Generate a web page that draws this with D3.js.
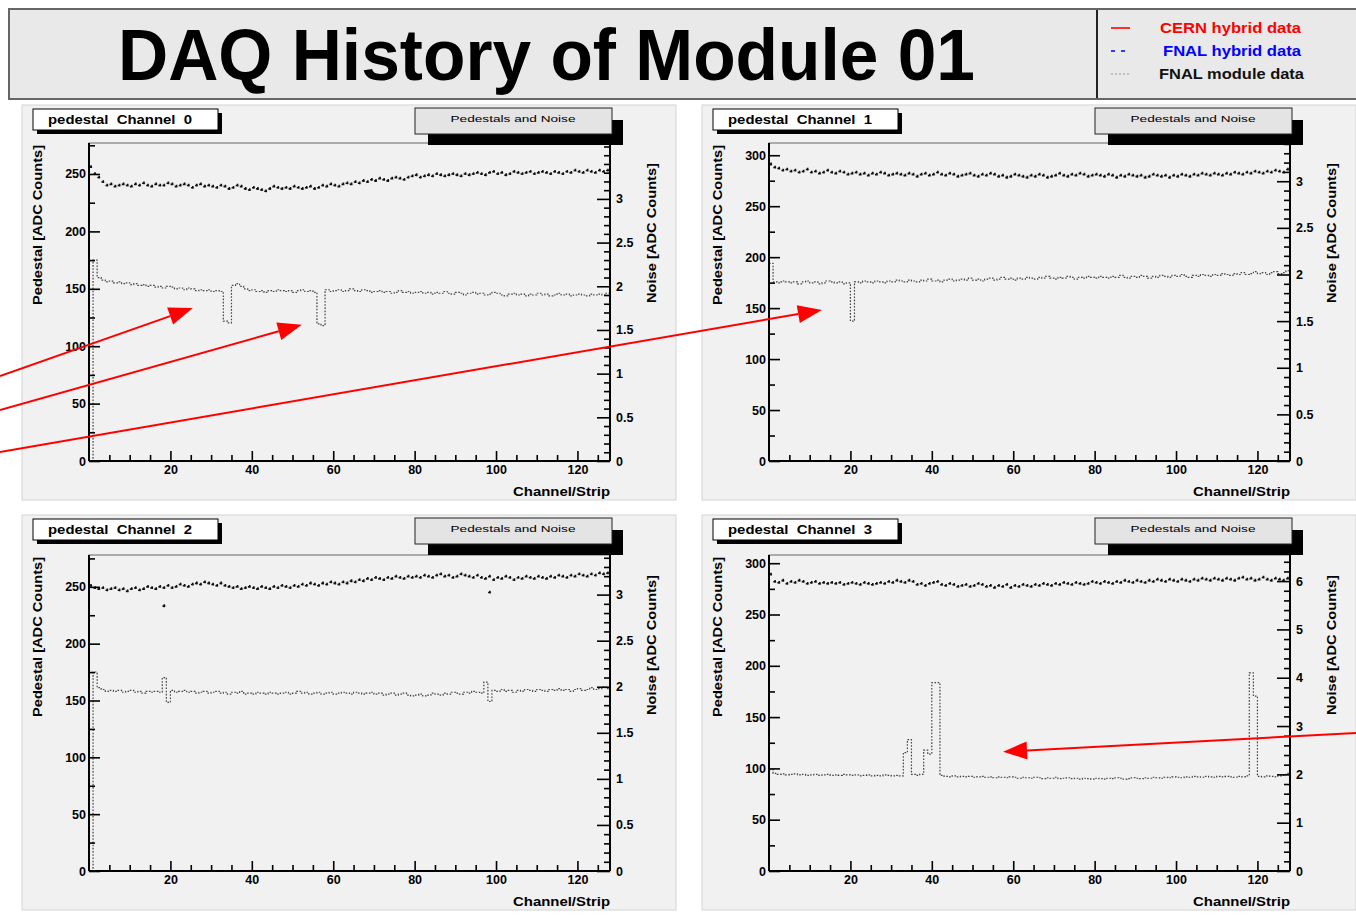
<!DOCTYPE html>
<html>
<head>
<meta charset="utf-8">
<script src="https://cdn.jsdelivr.net/npm/d3@7"></script>
<style>
  body { margin: 0; background: #fff; }
  svg { display: block; font-family: "Liberation Sans", Arial, sans-serif; font-weight: bold; }
</style>
</head>
<body>
<script>
/*** data: 128 strips per chip, pedestal in ADC counts, noise in ADC counts ***/
const nStrips = 128;

const pedestal0 = [
  256, 250, 247, 243, 240, 241, 239, 240, 241, 240, 239, 241, 240, 242, 240, 239,
  241, 240, 240, 242, 241, 239, 240, 241, 240, 238, 240, 241, 239, 240, 239, 238,
  240, 239, 237, 238, 240, 239, 237, 236, 238, 237, 236, 235, 237, 239, 238, 237,
  238, 237, 239, 238, 237, 238, 239, 237, 238, 240, 239, 241, 240, 239, 241, 242,
  241, 243, 242, 244, 243, 245, 244, 246, 245, 244, 246, 247, 246, 245, 247, 248,
  249, 247, 248, 249, 248, 250, 249, 248, 249, 250, 249, 248, 250, 249, 250, 251,
  250, 249, 251, 252, 250, 251, 249, 250, 252, 251, 250, 251, 252, 250, 251, 252,
  251, 250, 252, 251, 250, 252, 251, 253, 252, 251, 253, 252, 251, 253, 252, 253
];
const noise0 = [
  0, 2.30, 2.10, 2.07, 2.05, 2.06, 2.04, 2.05, 2.03, 2.04, 2.02, 2.03, 2.01, 2.02, 2.00, 2.01,
  1.99, 2.00, 1.98, 2.00, 1.99, 1.97, 1.98, 1.96, 1.98, 1.97, 1.95, 1.96, 1.95, 1.96, 1.94, 1.95,
  1.94, 1.60, 1.58, 2.01, 2.03, 2.00, 1.97, 1.95, 1.96, 1.94, 1.95, 1.93, 1.95, 1.94, 1.96, 1.95,
  1.94, 1.95, 1.93, 1.95, 1.96, 1.94, 1.95, 1.93, 1.57, 1.55, 1.96, 1.94, 1.95, 1.96, 1.94, 1.95,
  1.97, 1.95, 1.94, 1.96, 1.95, 1.93, 1.94, 1.95, 1.93, 1.94, 1.92, 1.93, 1.95, 1.93, 1.94, 1.92,
  1.93, 1.94, 1.92, 1.93, 1.91, 1.93, 1.92, 1.94, 1.92, 1.91, 1.93, 1.92, 1.90, 1.92, 1.93, 1.91,
  1.92, 1.90, 1.91, 1.93, 1.92, 1.90, 1.89, 1.91, 1.92, 1.90, 1.91, 1.89, 1.91, 1.90, 1.92, 1.90,
  1.91, 1.89, 1.90, 1.92, 1.90, 1.91, 1.89, 1.90, 1.91, 1.90, 1.89, 1.91, 1.90, 1.91, 1.90, 1.92
];

const pedestal1 = [
  291, 288, 287, 285, 286, 284, 285, 283, 284, 286, 283, 284, 282, 283, 285, 283,
  282, 284, 283, 281, 282, 283, 281, 282, 280, 282, 281, 283, 282, 280, 281, 282,
  281, 280, 282, 281, 279, 281, 282, 280, 281, 283, 281, 280, 282, 281, 279, 280,
  281, 282, 280, 279, 281, 280, 282, 281, 279, 280, 278, 279, 281, 280, 279, 278,
  280, 279, 281, 280, 278, 279, 280, 282, 280, 279, 281, 280, 282, 281, 279, 280,
  281, 280, 279, 281, 280, 278, 280, 279, 281, 280, 279, 280, 278, 279, 281, 280,
  279, 280, 278, 280, 279, 281, 280, 279, 281, 280, 282, 281, 280, 282, 281, 280,
  282, 281, 283, 282, 281, 283, 282, 284, 283, 282, 284, 283, 285, 284, 283, 286
];
const noise1 = [
  2.12, 1.92, 1.91, 1.93, 1.92, 1.91, 1.92, 1.90, 1.92, 1.93, 1.91, 1.92, 1.90, 1.91, 1.93, 1.92,
  1.91, 1.92, 1.90, 1.91, 1.50, 1.92, 1.91, 1.93, 1.92, 1.91, 1.93, 1.92, 1.91, 1.93, 1.92, 1.94,
  1.93, 1.92, 1.94, 1.93, 1.92, 1.94, 1.93, 1.95, 1.93, 1.94, 1.92, 1.94, 1.95, 1.93, 1.94, 1.95,
  1.94, 1.96, 1.94, 1.95, 1.93, 1.95, 1.96, 1.94, 1.95, 1.97, 1.95, 1.96, 1.94, 1.96, 1.95, 1.97,
  1.96, 1.95, 1.97, 1.96, 1.98, 1.96, 1.95, 1.97, 1.96, 1.98, 1.97, 1.95, 1.97, 1.96, 1.98, 1.97,
  1.96, 1.98, 1.97, 1.96, 1.98, 1.97, 1.99, 1.97, 1.96, 1.98, 1.97, 1.99, 1.98, 1.96, 1.98, 1.97,
  1.99, 1.98, 1.97, 1.99, 1.98, 2.00, 1.98, 1.97, 1.99, 1.98, 2.00, 1.99, 1.98, 2.00, 1.99, 2.01,
  2.00, 1.99, 2.01, 2.00, 2.02, 2.00, 2.01, 2.03, 2.01, 2.02, 2.00, 2.02, 2.03, 2.01, 2.02, 2.04
];

const pedestal2 = [
  251, 249, 248, 249, 247, 248, 249, 247, 248, 246, 248, 249, 247, 248, 250, 249,
  248, 250, 249, 251, 249, 250, 252, 251, 250, 252, 253, 252, 254, 253, 252, 251,
  253, 251, 250, 249, 250, 248, 249, 250, 249, 248, 250, 249, 248, 250, 249, 251,
  250, 249, 251, 250, 252, 251, 253, 252, 251, 253, 252, 254, 253, 252, 254, 253,
  255, 254, 256, 255, 257, 256, 258, 257, 256, 258, 257, 259, 258, 257, 259, 258,
  259, 258, 260, 259, 258, 260, 261, 259, 260, 258, 259, 261, 260, 259, 258, 260,
  258, 257, 259, 256, 258, 257, 259, 258, 256, 258, 257, 259, 258, 257, 259, 258,
  257, 259, 258, 260, 259, 258, 260, 259, 261, 260, 259, 261, 260, 262, 261, 262
];
const noise2 = [
  0, 2.16, 1.99, 1.97, 1.95, 1.96, 1.95, 1.96, 1.94, 1.95, 1.96, 1.94, 1.95, 1.93, 1.95, 1.94,
  1.95, 1.94, 2.10, 1.83, 1.96, 1.94, 1.95, 1.96, 1.94, 1.95, 1.93, 1.94, 1.95, 1.93, 1.94, 1.95,
  1.93, 1.94, 1.92, 1.94, 1.93, 1.95, 1.92, 1.93, 1.92, 1.94, 1.93, 1.92, 1.94, 1.93, 1.92, 1.93,
  1.94, 1.92, 1.93, 1.95, 1.93, 1.94, 1.92, 1.93, 1.94, 1.92, 1.93, 1.94, 1.92, 1.93, 1.94, 1.93,
  1.92, 1.94, 1.93, 1.92, 1.93, 1.94, 1.92, 1.93, 1.91, 1.92, 1.93, 1.91, 1.92, 1.93, 1.91, 1.90,
  1.91, 1.92, 1.90, 1.91, 1.93, 1.92, 1.91, 1.93, 1.92, 1.94, 1.93, 1.92, 1.94, 1.93, 1.95, 1.94,
  1.93, 2.05, 1.84, 1.96, 1.95, 1.97, 1.95, 1.96, 1.94, 1.96, 1.95, 1.97, 1.96, 1.95, 1.97, 1.96,
  1.95, 1.97, 1.96, 1.98, 1.96, 1.97, 1.95, 1.97, 1.98, 1.96, 1.97, 1.99, 1.97, 1.98, 2.00, 1.98
];
// stray pedestal points seen in channel 2
const strayChannels2 = [18, 98];
const strayPedestal2 = [233, 245];

const pedestal3 = [
  289, 282, 281, 283, 280, 282, 281, 283, 282, 280, 281, 282, 280, 281, 280, 281,
  280, 281, 279, 280, 281, 280, 279, 281, 280, 279, 280, 281, 280, 282, 281, 283,
  282, 281, 283, 282, 279, 280, 278, 280, 281, 282, 279, 278, 280, 279, 277, 278,
  279, 277, 278, 280, 279, 277, 278, 276, 278, 277, 279, 276, 278, 277, 279, 278,
  277, 279, 278, 280, 279, 278, 280, 279, 281, 280, 279, 281, 280, 279, 280, 282,
  281, 280, 282, 281, 280, 282, 281, 283, 282, 281, 283, 282, 281, 283, 282, 284,
  283, 282, 284, 283, 282, 284, 283, 282, 284, 283, 285, 284, 283, 285, 284, 283,
  285, 284, 283, 285, 286, 284, 285, 283, 284, 286, 284, 283, 285, 284, 283, 285
];
const noise3 = [
  2.10, 2.02, 2.00, 2.01, 1.99, 2.00, 2.01, 1.99, 2.00, 1.98, 1.99, 2.00, 1.98, 1.99, 2.00, 1.98,
  1.99, 1.98, 2.00, 1.99, 1.98, 1.99, 1.97, 1.98, 1.99, 1.97, 1.98, 1.97, 1.99, 1.98, 1.97, 1.98,
  1.97, 2.45, 2.72, 2.00, 1.98, 2.00, 2.50, 2.42, 3.90, 3.90, 1.98, 1.96, 1.95, 1.97, 1.95, 1.96,
  1.95, 1.96, 1.94, 1.95, 1.96, 1.94, 1.95, 1.93, 1.95, 1.94, 1.93, 1.95, 1.94, 1.92, 1.94, 1.93,
  1.92, 1.94, 1.93, 1.91, 1.93, 1.92, 1.94, 1.91, 1.92, 1.93, 1.91, 1.92, 1.90, 1.92, 1.91, 1.90,
  1.92, 1.91, 1.90, 1.92, 1.91, 1.93, 1.92, 1.90, 1.91, 1.93, 1.92, 1.91, 1.93, 1.92, 1.94, 1.93,
  1.92, 1.94, 1.93, 1.95, 1.94, 1.93, 1.95, 1.94, 1.96, 1.95, 1.94, 1.96, 1.95, 1.94, 1.96, 1.95,
  1.96, 1.95, 1.94, 1.96, 1.95, 1.97, 4.10, 3.62, 1.96, 1.95, 1.97, 1.96, 1.95, 1.97, 1.98, 2.02
];

/*** axis ranges and tick labels ***/
const panelTitles = ["pedestal  Channel  0", "pedestal  Channel  1", "pedestal  Channel  2", "pedestal  Channel  3"];
const pedestalMax = [277, 312, 278, 308];
const noiseMax = [3.64, 3.41, 3.43, 6.54];
const xTicks = [20, 40, 60, 80, 100, 120];
const pedTicks = [[0, 50, 100, 150, 200, 250], [0, 50, 100, 150, 200, 250, 300],
                  [0, 50, 100, 150, 200, 250], [0, 50, 100, 150, 200, 250, 300]];
const noiseTicks = [[0, 0.5, 1, 1.5, 2, 2.5, 3], [0, 0.5, 1, 1.5, 2, 2.5, 3],
                    [0, 0.5, 1, 1.5, 2, 2.5, 3], [0, 1, 2, 3, 4, 5, 6]];
const noiseMinorStep = [0.1, 0.1, 0.1, 0.2];

const legendLabels = ["CERN hybrid data", "FNAL hybrid data", "FNAL module data"];
const legendColors = ["#ff0000", "#0000ff", "#111111"];

// red annotation arrows: which panel, channel and noise value they point at, and where they leave the page
const arrowPanel = [0, 0, 1, 3];
const arrowChannel = [25.5, 52.3, 13.0, 57.5];
const arrowNoise = [1.75, 1.56, 1.62, 2.47];
const arrowFromX = [0, 0, 0, 1356];
const arrowFromY = [376, 410, 452, 733];

const pedestals = [pedestal0, pedestal1, pedestal2, pedestal3];
const noises = [noise0, noise1, noise2, noise3];

/*** page layout ***/
const width = 1356, height = 915;
const pads = [
  { x: 22, y: 105, frame: { l: 89, t: 143, r: 610, b: 461 } },
  { x: 702, y: 105, frame: { l: 769, t: 143, r: 1290, b: 461 } },
  { x: 22, y: 515, frame: { l: 89, t: 555, r: 610, b: 871 } },
  { x: 702, y: 515, frame: { l: 769, t: 555, r: 1290, b: 871 } }
];

const svg = d3.select("body").append("svg")
  .attr("width", width)
  .attr("height", height);

svg.append("rect").attr("width", width).attr("height", height).attr("fill", "#fff");

/*** title + legend bar ***/
const head = svg.append("g");
head.append("rect")
  .attr("x", 9).attr("y", 9).attr("width", 1360).attr("height", 90)
  .attr("fill", "#e9e9e9").attr("stroke", "#666").attr("stroke-width", 2);
head.append("line")
  .attr("x1", 1097).attr("x2", 1097).attr("y1", 10).attr("y2", 98)
  .attr("stroke", "#222").attr("stroke-width", 2);
head.append("text")
  .attr("x", 118).attr("y", 80)
  .attr("font-size", 72)
  .attr("textLength", 857).attr("lengthAdjust", "spacingAndGlyphs")
  .attr("fill", "#000")
  .text("DAQ History of Module 01");

const legend = head.selectAll("g.leg")
  .data(legendLabels)
  .join("g")
  .attr("class", "leg")
  .attr("transform", (d, i) => `translate(0,${28 + i * 23})`);
legend.append("line")
  .attr("x1", 1111).attr("x2", 1130).attr("y1", 0).attr("y2", 0)
  .attr("stroke", (d, i) => i === 2 ? "#999" : legendColors[i])
  .attr("stroke-width", (d, i) => i === 2 ? 1 : 1.6)
  .attr("stroke-dasharray", (d, i) => ["none", "4,6", "2,2"][i]);
legend.append("text")
  .attr("x", (d, i) => [1160, 1163, 1159][i])
  .attr("y", 5)
  .attr("font-size", 14)
  .attr("textLength", (d, i) => [141, 138, 145][i])
  .attr("lengthAdjust", "spacingAndGlyphs")
  .attr("fill", (d, i) => legendColors[i])
  .text(d => d);

/*** one pad per channel ***/
function drawPanel(k) {
  const pad = pads[k], f = pad.frame;
  const g = svg.append("g");

  g.append("rect")
    .attr("x", pad.x).attr("y", pad.y).attr("width", 654).attr("height", 395)
    .attr("fill", "#f1f1f1").attr("stroke", "#d4d4d4").attr("stroke-width", 1);

  const x = d3.scaleLinear().domain([0, nStrips]).range([f.l, f.r]);
  const yPed = d3.scaleLinear().domain([0, pedestalMax[k]]).range([f.b, f.t]);
  const yNoise = d3.scaleLinear().domain([0, noiseMax[k]]).range([f.b, f.t]);

  // frame
  g.append("rect")
    .attr("x", f.l).attr("y", f.t).attr("width", f.r - f.l).attr("height", f.b - f.t)
    .attr("fill", "#f1f1f1").attr("stroke", "#666").attr("stroke-width", 1);

  // noise: dotted step histogram
  const steps = noises[k].map((v, i) => [i, v]).concat([[nStrips, noises[k][nStrips - 1]]]);
  g.append("path")
    .attr("d", d3.line().x(d => x(d[0])).y(d => yNoise(d[1])).curve(d3.curveStepAfter)(steps))
    .attr("fill", "none")
    .attr("stroke", "#444")
    .attr("stroke-width", 1.2)
    .attr("stroke-dasharray", "1.6,1.6");

  // pedestal: per-strip bars with small error ticks
  const p = d3.path();
  pedestals[k].forEach((v, i) => {
    const x0 = x(i) + 0.2, x1 = x(i + 1) - 0.2, yy = yPed(v), xm = (x0 + x1) / 2;
    p.moveTo(x0, yy); p.lineTo(x1, yy);
    p.moveTo(xm, yy - 1.8); p.lineTo(xm, yy + 1.8);
  });
  if (k === 2) {
    strayChannels2.forEach((c, j) => {
      const yy = yPed(strayPedestal2[j]);
      p.moveTo(x(c) + 0.2, yy); p.lineTo(x(c + 1) - 0.2, yy);
      p.moveTo(x(c + 0.5), yy - 1.8); p.lineTo(x(c + 0.5), yy + 1.8);
    });
  }
  g.append("path")
    .attr("d", p.toString())
    .attr("fill", "none")
    .attr("stroke", "#111")
    .attr("stroke-width", 1.6)
    .attr("stroke-dasharray", "2.8,0.8");

  // axes (ROOT style: ticks inside the frame)
  const fontSize = 12.5;
  const styleAxis = sel => {
    sel.select(".domain").remove();
    sel.selectAll("line").attr("stroke", "#000").attr("stroke-width", 1.6);
    sel.selectAll("text").attr("font-size", fontSize).attr("font-weight", "bold")
      .attr("font-family", "'Liberation Sans', Arial, sans-serif").attr("fill", "#000");
  };

  const xMinor = d3.range(5, nStrips, 5).filter(v => v % 20 !== 0);
  g.append("g").attr("transform", `translate(0,${f.b})`)
    .call(d3.axisBottom(x).tickValues(xMinor).tickSize(-6).tickFormat(""))
    .call(styleAxis);
  g.append("g").attr("transform", `translate(0,${f.b})`)
    .call(d3.axisBottom(x).tickValues(xTicks).tickSize(-10).tickPadding(4).tickFormat(d3.format("d")))
    .call(styleAxis);

  const pedMinor = d3.range(25, pedestalMax[k], 50);
  g.append("g").attr("transform", `translate(${f.l},0)`)
    .call(d3.axisLeft(yPed).tickValues(pedMinor).tickSize(-6).tickFormat(""))
    .call(styleAxis);
  g.append("g").attr("transform", `translate(${f.l},0)`)
    .call(d3.axisLeft(yPed).tickValues(pedTicks[k]).tickSize(-11).tickPadding(3).tickFormat(d3.format("d")))
    .call(styleAxis);

  const step = noiseMinorStep[k];
  const nMinor = d3.range(1, Math.floor(noiseMax[k] / step) + 1).map(i => +(i * step).toFixed(2))
    .filter(v => !noiseTicks[k].includes(v));
  g.append("g").attr("transform", `translate(${f.r},0)`)
    .call(d3.axisRight(yNoise).tickValues(nMinor).tickSize(-6).tickFormat(""))
    .call(styleAxis);
  g.append("g").attr("transform", `translate(${f.r},0)`)
    .call(d3.axisRight(yNoise).tickValues(noiseTicks[k]).tickSize(-13).tickPadding(6).tickFormat(d3.format("~g")))
    .call(styleAxis);

  // axis lines
  g.append("line").attr("x1", f.l).attr("x2", f.l).attr("y1", f.t).attr("y2", f.b)
    .attr("stroke", "#000").attr("stroke-width", 2);
  g.append("line").attr("x1", f.r).attr("x2", f.r).attr("y1", f.t).attr("y2", f.b)
    .attr("stroke", "#000").attr("stroke-width", 2);
  g.append("line").attr("x1", f.l).attr("x2", f.r).attr("y1", f.b).attr("y2", f.b)
    .attr("stroke", "#000").attr("stroke-width", 2);

  // axis titles
  g.append("text")
    .attr("transform", `translate(${f.l - 51},${f.t + 82}) rotate(-90)`)
    .attr("text-anchor", "middle").attr("dy", "0.35em")
    .attr("font-size", 12)
    .attr("textLength", 160).attr("lengthAdjust", "spacingAndGlyphs")
    .text("Pedestal [ADC Counts]");
  g.append("text")
    .attr("transform", `translate(${f.r + 42},${f.t + 90}) rotate(-90)`)
    .attr("text-anchor", "middle").attr("dy", "0.35em")
    .attr("font-size", 12)
    .attr("textLength", 140).attr("lengthAdjust", "spacingAndGlyphs")
    .text("Noise [ADC Counts]");
  g.append("text")
    .attr("x", f.r).attr("y", f.b + 35)
    .attr("text-anchor", "end")
    .attr("font-size", 13)
    .attr("textLength", 97).attr("lengthAdjust", "spacingAndGlyphs")
    .text("Channel/Strip");

  // title box with shadow
  const tx = pad.x + 11, ty = pad.y + 4;
  g.append("rect").attr("x", tx + 4).attr("y", ty + 4).attr("width", 185).attr("height", 21).attr("fill", "#000");
  g.append("rect").attr("x", tx).attr("y", ty).attr("width", 185).attr("height", 21)
    .attr("fill", "#fff").attr("stroke", "#000").attr("stroke-width", 1);
  g.append("text")
    .attr("x", tx + 15).attr("y", ty + 14.5)
    .attr("font-size", 13)
    .style("white-space", "pre")
    .attr("textLength", 144).attr("lengthAdjust", "spacingAndGlyphs")
    .text(panelTitles[k]);

  // "Pedestals and Noise" box with shadow
  const bx = pad.x + 393, by = pad.y + 3;
  g.append("rect").attr("x", bx + 13).attr("y", by + 12).attr("width", 195).attr("height", 25).attr("fill", "#000");
  g.append("rect").attr("x", bx).attr("y", by).attr("width", 197).attr("height", 26)
    .attr("fill", "#e4e4e4").attr("stroke", "#222").attr("stroke-width", 1);
  g.append("text")
    .attr("x", bx + 98).attr("y", by + 14)
    .attr("text-anchor", "middle")
    .attr("font-size", 9).attr("font-weight", "normal")
    .attr("textLength", 125).attr("lengthAdjust", "spacingAndGlyphs")
    .text("Pedestals and Noise");

  return { x, yNoise };
}

const scales = pads.map((d, k) => drawPanel(k));

/*** red annotation arrows ***/
const arrows = svg.append("g");
arrowPanel.forEach((k, i) => {
  const tipX = scales[k].x(arrowChannel[i]);
  const tipY = scales[k].yNoise(arrowNoise[i]);
  const x0 = arrowFromX[i], y0 = arrowFromY[i];
  const ang = Math.atan2(tipY - y0, tipX - x0);
  const len = 24, half = 9;
  const bxp = tipX - len * Math.cos(ang), byp = tipY - len * Math.sin(ang);
  arrows.append("line")
    .attr("x1", x0).attr("y1", y0).attr("x2", bxp).attr("y2", byp)
    .attr("stroke", "#ff0000").attr("stroke-width", 2);
  arrows.append("path")
    .attr("d", d3.line()([
      [tipX, tipY],
      [bxp + half * Math.sin(ang), byp - half * Math.cos(ang)],
      [bxp - half * Math.sin(ang), byp + half * Math.cos(ang)]
    ]) + "Z")
    .attr("fill", "#ff0000");
});
</script>
</body>
</html>
